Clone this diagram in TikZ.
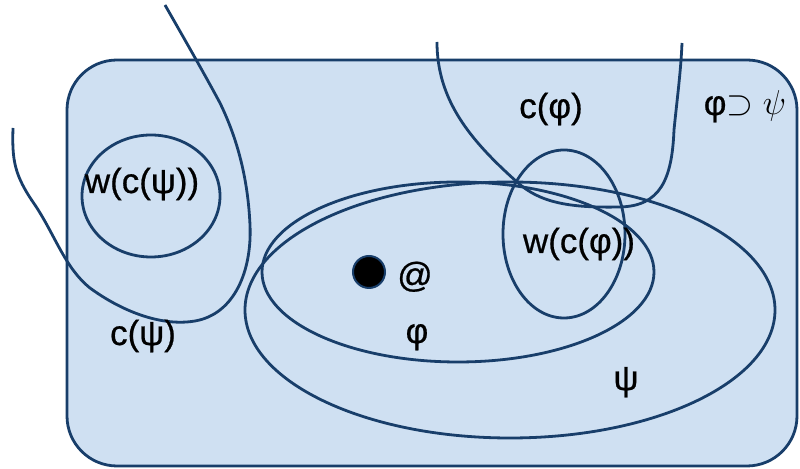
\documentclass[tikz,border=0pt]{standalone}
\usepackage{fontspec}
\setmainfont{Liberation Sans}
\newfontfamily\setfont[FakeBold=0.6]{Liberation Sans}
\definecolor{regionfill}{RGB}{207,224,242}
\definecolor{regionline}{RGB}{24,62,106}
\tikzset{
  setline/.style={draw=regionline,line width=1.4pt},
  setlabel/.style={anchor=base,inner sep=0pt,font=\setfont\fontsize{17.5}{21}\selectfont}
}
\begin{document}
\begin{tikzpicture}[x=0.5pt,y=-0.5pt]
\useasboundingbox (0,0) rectangle (800,469);
\draw[setline,fill=regionfill,rounded corners=25pt] (67,60) rectangle (797,466);

\draw[setline] (510,310) ellipse [x radius=132.5pt,y radius=64pt];
\draw[setline] (458,272) ellipse [x radius=98pt,y radius=45pt];
\draw[setline] (151,196) ellipse [x radius=34.5pt,y radius=30.5pt];
\draw[setline] (564,234) ellipse [x radius=30.5pt,y radius=42pt];

\draw[setline] (13,128) .. controls (12,160) and (14,175) .. (35,205)
  .. controls (55,235) and (65,268) .. (90,288)
  .. controls (120,310) and (160,327) .. (195,321)
  .. controls (235,314) and (252,270) .. (250,225)
  .. controls (248,180) and (238,140) .. (220,103)
  .. controls (205,75) and (185,40) .. (165,5);
\draw[setline] (437,42) .. controls (437,100) and (470,140) .. (517,182)
  .. controls (540,203) and (570,208) .. (620,207)
  .. controls (660,206) and (672,180) .. (674,130)
  .. controls (677,100) and (681,70) .. (682,43);

\node[circle,fill=black,draw=regionline,line width=1pt,minimum size=16pt,inner sep=0pt] (actual) at (369,272) {};

\node[setlabel] (cphi) at (551,118) {c(φ)};
\node[setlabel] (implies) at (745,115) {φ$\supset\psi$};
\node[setlabel] (wcpsi) at (142,193) {w(c(ψ))};
\node[setlabel] (cpsi) at (143,345) {c(ψ)};
\node[setlabel] (wcphi) at (579,253) {w(c(φ))};
\node[setlabel] (atsign) at (415,287) {@};
\node[setlabel] (phi) at (417,343) {φ};
\node[setlabel] (psi) at (626,390) {ψ};
\end{tikzpicture}
\end{document}
